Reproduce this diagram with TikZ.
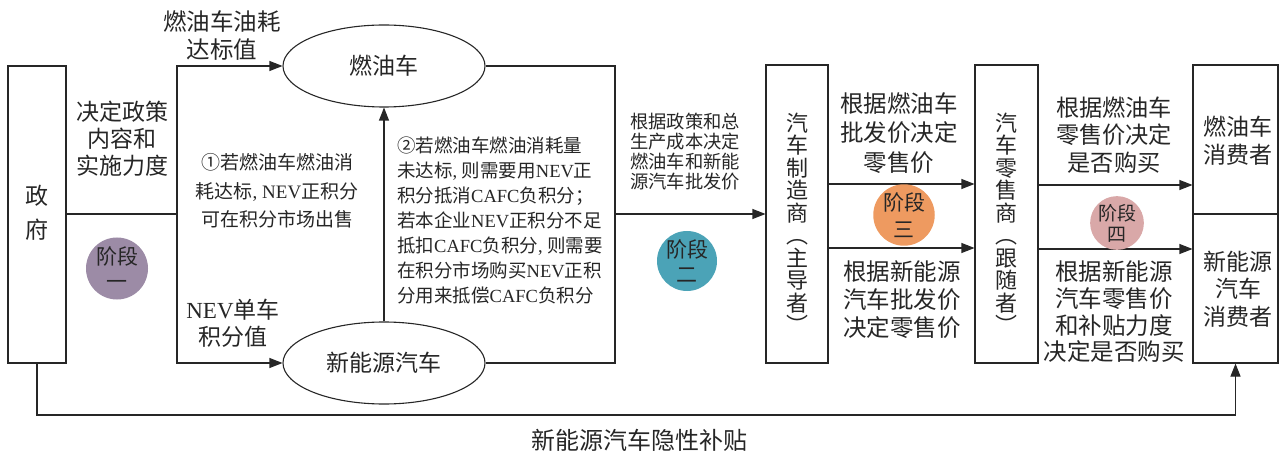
\documentclass[tikz,border=0pt]{standalone}
\usepackage{fontspec}
\setmainfont{Noto Sans CJK SC}
\newfontfamily\lat{Liberation Serif}
\usetikzlibrary{shapes.geometric,arrows.meta}
\definecolor{ln}{HTML}{262626}
\definecolor{stA}{HTML}{9C8BA6}
\definecolor{stB}{HTML}{4BA3B7}
\definecolor{stC}{HTML}{EE9A60}
\definecolor{stD}{HTML}{D9A8A8}
\newcommand\fsz[2]{\fontsize{#1}{#2}\selectfont}
\newcommand\cma{{\lat ,}\hspace{0.25em}}
\begin{document}
\begin{tikzpicture}[x=1pt,y=-1pt,
  every node/.style={text=ln},
  box/.style={draw=ln, line width=1.1pt, inner sep=0pt},
  con/.style={draw=ln, line width=1.1pt},
  arr/.style={con, -{Triangle[length=13pt,width=10pt]}},
  oval/.style={ellipse, draw=ln, line width=1.1pt, minimum width=202pt, minimum height=82pt, inner sep=0pt, font=\fsz{23}{28}},
  lbl/.style={align=center, inner sep=0pt},
  stage/.style={circle, inner sep=0pt, align=center, minimum size=#1},
]
\useasboundingbox (0,0) rectangle (1279,454);

% boxes
\node[box, minimum width=58pt, minimum height=297pt] (gov) at (37,214.5) {};
\node[lbl, font=\fsz{23}{34}] (govt) at (37,213) {政\\府};
\node[box, minimum width=62pt, minimum height=298pt] (mfr) at (797,214) {};
\node[box, minimum width=63pt, minimum height=298pt] (ret) at (1006.5,214) {};
\node[box, minimum width=85pt, minimum height=149pt] (fc) at (1235.5,139.5) {};
\node[box, minimum width=85pt, minimum height=149pt] (nc) at (1235.5,288.5) {};

% ellipses
\node[oval] (fuel) at (384,66) {燃油车};
\node[oval] (nev) at (384,363) {新能源汽车};

% connectors
\coordinate (j1) at (177,214);
\coordinate (j2) at (615,214);
\draw[con] (gov.east |- j1) -- (j1);
\draw[arr] (j1) |- (fuel.west);
\draw[arr] (j1) |- (nev.west);
\draw[arr] (nev.north) -- (fuel.south);
\draw[con] (fuel.east) -| (j2);
\draw[con] (nev.east) -| (j2);
\draw[arr] (j2) -- (mfr.west |- j2);
\draw[arr] (mfr.east |- 0,184) -- (ret.west |- 0,184);
\draw[arr] (mfr.east |- 0,248) -- (ret.west |- 0,248);
\draw[arr] (ret.east |- 0,185) -- (fc.west |- 0,185);
\draw[arr] (ret.east |- 0,249) -- (nc.west |- 0,249);
\coordinate (bl) at (37,415);
\draw[arr] (gov.south) -- (bl) -| (nc.south);

% labels
\node[lbl, font=\fsz{23.5}{28}] (l1) at (222,36) {燃油车油耗\\达标值};
\node[lbl, font=\fsz{23}{27}] (l2) at (122,139) {决定政策\\内容和\\实施力度};
\node[lbl, font=\fsz{23}{27}] (l3) at (233,323) {{\lat NEV}单车\\积分值};
\node[lbl, font=\fsz{19}{28.5}] (l4) at (277,191) {①若燃油车燃油消\\耗达标\cma{\lat NEV}正积分\\可在积分市场出售};
\node[lbl, align=left, anchor=west, font=\fsz{18.5}{25}] (l5) at (397,220)
  {②若燃油车燃油消耗量\\未达标\cma 则需要用{\lat NEV}正\\积分抵消{\lat CAFC}负积分；\\若本企业{\lat NEV}正积分不足\\抵扣{\lat CAFC}负积分\cma 则需要\\在积分市场购买{\lat NEV}正积\\分用来抵偿{\lat CAFC}负积分};
\node[lbl, font=\fsz{18.3}{20}] (l6) at (685,152) {根据政策和总\\生产成本决定\\燃油车和新能\\源汽车批发价};
\node[lbl, font=\fsz{23.5}{29.5}] (l7) at (899,133) {根据燃油车\\批发价决定\\零售价};
\node[lbl, font=\fsz{23.5}{28}] (l8) at (902,300) {根据新能源\\汽车批发价\\决定零售价};
\node[lbl, font=\fsz{23.2}{27.5}] (l9) at (1114,135) {根据燃油车\\零售价决定\\是否购买};
\node[lbl, font=\fsz{23.5}{26.7}] (l10) at (1114,312) {根据新能源\\汽车零售价\\和补贴力度\\决定是否购买};
\node[lbl, font=\fsz{23}{28}] (l11) at (1238,141) {燃油车\\消费者};
\node[lbl, font=\fsz{23}{27.5}] (l12) at (1238,289) {新能源\\汽车\\消费者};
\node[lbl, font=\fsz{24}{28}] (l13) at (639,440) {新能源汽车隐性补贴};
\node[lbl, font=\fsz{22}{22.5}] (v1) at (797,223.5) {汽\\车\\制\\造\\商\\︵\\主\\导\\者\\︶};
\node[lbl, font=\fsz{22}{22.5}] (v2) at (1006.5,223.5) {汽\\车\\零\\售\\商\\︵\\跟\\随\\者\\︶};

% stage circles
\node[stage=62pt, fill=stA, font=\fsz{21}{25}] (s1) at (117,268.5) {阶段\\一};
\node[stage=60pt, fill=stB, font=\fsz{21}{25}] (s2) at (687,261) {阶段\\二};
\node[stage=59pt, fill=stC, font=\fsz{21}{27}] (s3) at (904,215) {阶段\\三};
\node[stage=48pt, fill=stD, font=\fsz{19}{21}] (s4) at (1117,223) {阶段\\四};
\end{tikzpicture}
\end{document}
